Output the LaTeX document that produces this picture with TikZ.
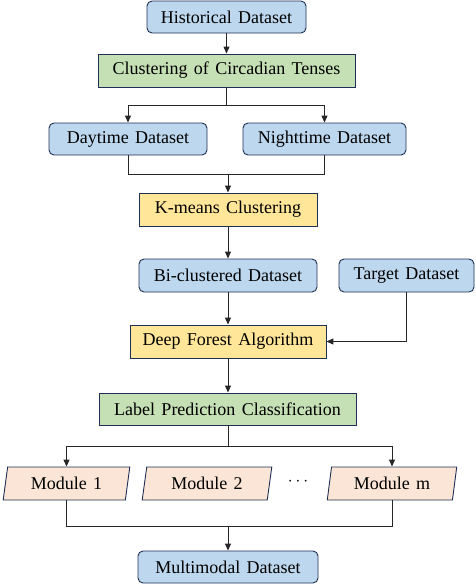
\documentclass[tikz,border=0pt]{standalone}
\usepackage{fontspec}
\setmainfont{Liberation Serif}[WordSpace=1.4]
\usetikzlibrary{shapes.geometric,arrows.meta}
\definecolor{bordc}{HTML}{1F2F55}
\definecolor{blueF}{HTML}{BDD7EE}
\definecolor{greenF}{HTML}{C5E0B4}
\definecolor{yellowF}{HTML}{FFE699}
\definecolor{peachF}{HTML}{FBE5D6}
\definecolor{linec}{HTML}{262626}
\tikzset{
  base/.style={draw=bordc, line width=0.9pt, inner sep=0pt, font=\fontsize{18}{21}\selectfont, text=black},
  rbox/.style={base, rounded corners=5pt, fill=blueF},
  gbox/.style={base, fill=greenF},
  ybox/.style={base, fill=yellowF},
  pbox/.style={base, fill=peachF, trapezium, trapezium left angle=78, trapezium right angle=102, trapezium stretches=true},
  conn/.style={draw=linec, line width=1pt},
  arr/.style={conn, -{Triangle[length=7pt,width=6pt]}}
}
\begin{document}
\begin{tikzpicture}[x=1pt,y=-1pt]
\useasboundingbox (0,0) rectangle (475,584);
\node[rbox, minimum width=159pt, minimum height=32pt] (hist) at (226.5,17) {Historical Dataset};
\node[gbox, minimum width=257pt, minimum height=33pt] (clus) at (226.5,70.5) {Clustering of Circadian Tenses};
\node[rbox, minimum width=158pt, minimum height=32pt] (day) at (128,139) {Daytime Dataset};
\node[rbox, minimum width=163pt, minimum height=32pt] (night) at (324.5,139) {Nighttime Dataset};
\node[ybox, minimum width=178pt, minimum height=33pt] (kmeans) at (228,209.5) {K-means Clustering};
\node[rbox, minimum width=178pt, minimum height=33pt] (bi) at (228,275.5) {Bi-clustered Dataset};
\node[rbox, minimum width=135pt, minimum height=33pt] (target) at (406.5,275.5) {Target Dataset};
\node[ybox, minimum width=196pt, minimum height=33pt] (deep) at (228,341.5) {Deep Forest Algorithm};
\node[gbox, minimum width=257pt, minimum height=32pt] (label) at (227.5,409) {Label Prediction Classification};
\node[pbox, minimum width=127pt, minimum height=33pt] (m1) at (66.5,483.5) {Module 1};
\node[pbox, minimum width=130pt, minimum height=33pt] (m2) at (207,483.5) {Module 2};
\node[font=\fontsize{18}{21}\selectfont] (dots) at (298,482) {$\cdots$};
\node[pbox, minimum width=130pt, minimum height=33pt] (mm) at (392,483.5) {Module m};
\node[rbox, minimum width=180pt, minimum height=32pt] (multi) at (228,567) {Multimodal Dataset};

\coordinate (s1) at (226.5,105);
\coordinate (j1) at (228,174);
\coordinate (s2) at (228,446);
\coordinate (j2) at (228,526);

\draw[arr] (hist) -- (clus);
\draw[conn] (clus.south) -- (s1);
\draw[arr] (s1) -| (day.north);
\draw[arr] (s1) -| (night.north);
\draw[conn] (day.south) |- (j1);
\draw[conn] (night.south) |- (j1);
\draw[arr] (j1) -- (kmeans.north);
\draw[arr] (kmeans) -- (bi);
\draw[arr] (bi) -- (deep);
\draw[arr] (target.south) |- (deep.east);
\draw[arr] (deep) -- (label.north -| deep);
\draw[conn] (label.south -| s2) -- (s2);
\draw[arr] (s2) -| (m1.north);
\draw[arr] (s2) -| (mm.north);
\draw[conn] (m1.south) |- (j2);
\draw[conn] (mm.south) |- (j2);
\draw[arr] (j2) -- (multi.north);
\end{tikzpicture}
\end{document}
